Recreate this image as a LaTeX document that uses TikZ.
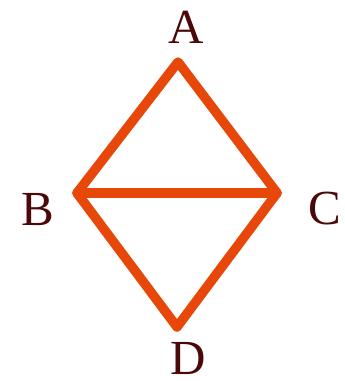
\documentclass[tikz,border=0pt]{standalone}
\usepackage{fontspec}
\setmainfont{Liberation Serif}
\definecolor{edgeor}{HTML}{E8470A}
\definecolor{labred}{HTML}{4A0808}
\begin{document}
\begin{tikzpicture}[x=1pt,y=-1pt,
  edge/.style={draw=edgeor,line width=9.5pt,line cap=round,line join=round},
  lab/.style={text=labred,font=\fontsize{49}{49}\selectfont,inner sep=0pt,anchor=base}]
\useasboundingbox (0,0) rectangle (345,381);
\coordinate (a) at (178,62);
\coordinate (b) at (77,193);
\coordinate (c) at (277,193);
\coordinate (d) at (177,327);
\draw[edge] (a) -- (c) -- (d) -- (b) -- cycle;
\draw[edge] (b) -- (c);
\node[lab] (la) at (186,43) {A};
\node[lab] (lb) at (38,225) {B};
\node[lab] (lc) at (325,224.5) {C};
\node[lab] (ld) at (188,374) {D};
\end{tikzpicture}
\end{document}
